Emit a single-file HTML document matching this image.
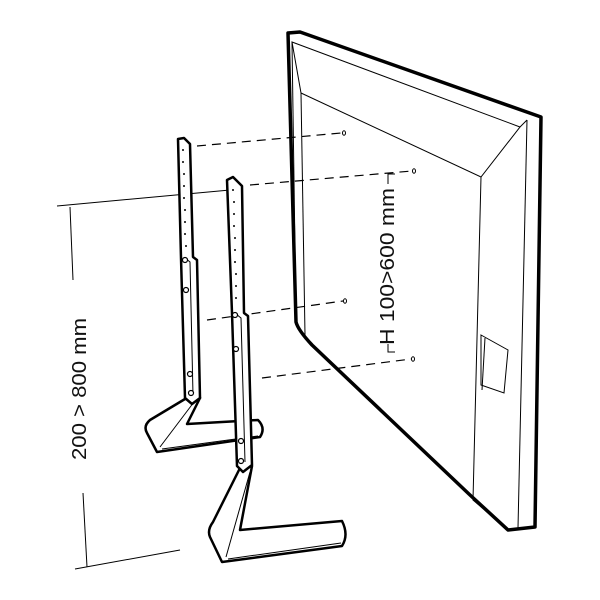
<!DOCTYPE html>
<html><head><style>body{margin:0;background:#fff}svg{display:block}</style></head><body>
<svg width="600" height="600" viewBox="0 0 600 600" xmlns="http://www.w3.org/2000/svg" font-family="Liberation Sans, sans-serif">
<!-- TV -->
<path d="M288,33 L300,32 L541,117 L535,527 L508,530 L470,495 L312,345 Q298,330 296,322 Z" fill="#fff" stroke="#000" stroke-width="3.5" stroke-linejoin="round"/>
<g fill="none" stroke="#000" stroke-width="1">
<path d="M292,42 L520,127 L481,177 L301,93 Z"/>
<path d="M292,42 L296,320"/>
<path d="M301,93 L305,335"/>
<path d="M481,177 L473,500 L508,530"/>
<path d="M520,127 L527,120"/>
<path d="M527,120 L518,528"/>
<path d="M481,335 L508,350 L504,393 L481,385 Z"/>
<path d="M485,338 L482,390"/>
</g>
<!-- dashed lines -->
<g stroke="#000" stroke-width="1.2" stroke-dasharray="9,6" fill="none">
<path d="M197,146 L341,133"/>
<path d="M250,185 L412,171"/>
<path d="M207,320 L343,301"/>
<path d="M262,378 L411,359"/>
</g>
<g fill="#fff" stroke="#000" stroke-width="1"><ellipse cx="344" cy="133" rx="1.5" ry="2.2"/><ellipse cx="414" cy="171" rx="1.5" ry="2.2"/><ellipse cx="345" cy="301" rx="1.5" ry="2.2"/><ellipse cx="413" cy="359" rx="1.5" ry="2.2"/></g>
<path d="M395,174 L388,174 L388,184 M388,344 L388,352 L395,352" stroke="#000" fill="none" stroke-width="1"/>
<text x="0" y="0" font-size="20" textLength="157" lengthAdjust="spacingAndGlyphs" transform="translate(394,345) rotate(-90)" fill="#111">H 100&gt;600 mm</text>
<!-- dimension -->
<g stroke="#000" stroke-width="1" fill="none">
<path d="M57,206 L230,190"/>
<path d="M70,207 L73,280"/>
<path d="M83,493 L87,567"/>
<path d="M75,569 L180,550"/>
</g>
<text x="0" y="0" font-size="20" textLength="142" lengthAdjust="spacingAndGlyphs" transform="translate(86,460) rotate(-90)" fill="#111">200 &gt; 800 mm</text>
<!-- left stand foot -->
<path d="M190,396 L150,420 Q143,426 147,433 L157,452 L260,437 Q266,428 258,420 L187,424 L200,398 Z" fill="#fff" stroke="#000" stroke-width="2.5" stroke-linejoin="round"/>
<path d="M160,447 L194,402 M162,449 L258,436" stroke="#000" stroke-width="1" fill="none"/>
<!-- left post -->
<path d="M178,139 L184,138 L190,144 L193,257 L197,260 L200,398 L192,404 L185,398 L181,258 Z" fill="#fff" stroke="#000" stroke-width="2.5" stroke-linejoin="round"/>
<path d="M185,258 L190,262 L193,395" stroke="#000" stroke-width="1" fill="none"/>
<g fill="#000"><circle cx="183" cy="150" r="1"/><circle cx="183" cy="162" r="1"/><circle cx="184" cy="174" r="1"/><circle cx="184" cy="186" r="1"/><circle cx="184" cy="198" r="1"/><circle cx="185" cy="210" r="1"/><circle cx="185" cy="222" r="1"/><circle cx="185" cy="234" r="1"/><circle cx="186" cy="246" r="1"/></g>
<g fill="#fff" stroke="#000" stroke-width="1.2"><circle cx="185" cy="260" r="2.5"/><circle cx="186" cy="290" r="2.5"/><circle cx="190" cy="374" r="2.5"/><circle cx="191" cy="393" r="2.5"/></g>
<!-- right stand foot -->
<path d="M241,466 L213,522 Q207,530 210,537 L222,562 L342,546 Q349,535 342,521 L240,530 L252,466 Z" fill="#fff" stroke="#000" stroke-width="2.5" stroke-linejoin="round"/>
<path d="M226,557 L250,472 M228,559 L341,543" stroke="#000" stroke-width="1" fill="none"/>
<!-- right post -->
<path d="M227,180 L233,177 L242,186 L244,313 L248,316 L252,465 L243,472 L237,466 L232,313 Z" fill="#fff" stroke="#000" stroke-width="2.5" stroke-linejoin="round"/>
<path d="M236,314 L241,318 L245,462" stroke="#000" stroke-width="1" fill="none"/>
<g fill="#000"><circle cx="233" cy="190" r="1"/><circle cx="234" cy="202" r="1"/><circle cx="234" cy="214" r="1"/><circle cx="234" cy="226" r="1"/><circle cx="235" cy="238" r="1"/><circle cx="235" cy="250" r="1"/><circle cx="235" cy="262" r="1"/><circle cx="236" cy="274" r="1"/><circle cx="236" cy="286" r="1"/><circle cx="236" cy="298" r="1"/></g>
<g fill="#fff" stroke="#000" stroke-width="1.2"><circle cx="235" cy="315" r="2.5"/><circle cx="236" cy="349" r="2.5"/><circle cx="241" cy="441" r="2.5"/><circle cx="241" cy="461" r="2.5"/></g>
</svg>
</body></html>
